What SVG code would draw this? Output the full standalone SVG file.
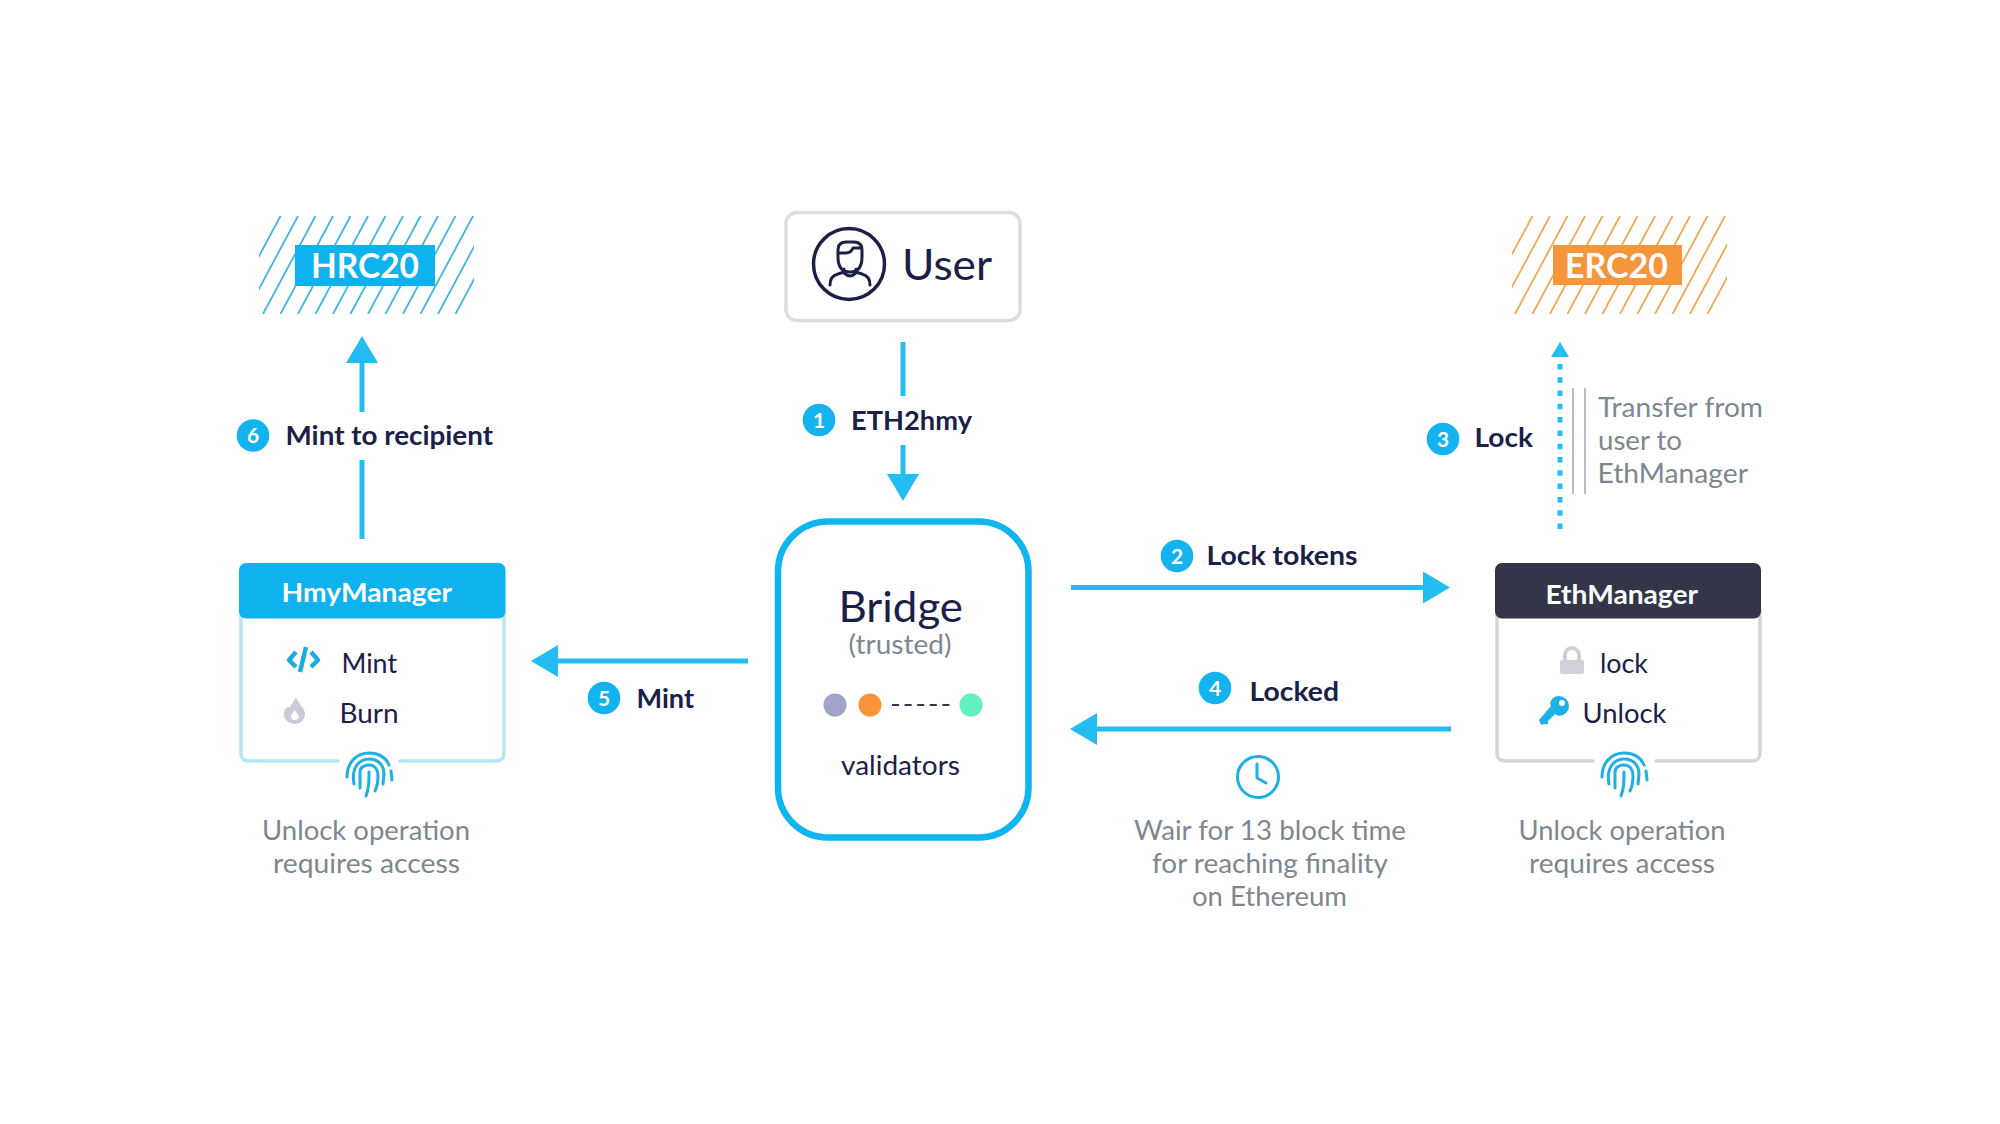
<svg xmlns="http://www.w3.org/2000/svg" width="2000" height="1124" viewBox="0 0 2000 1124">
<style>
text{font-family:"Lato","Noto Sans",sans-serif;fill:#1b2047}
.b{font-weight:700}
.g{fill:#7e8790;font-size:27px}
.r{font-size:27px}
.w{fill:#fff;font-weight:700}
.n{fill:#fff;font-size:21px;font-weight:700;text-anchor:middle}
.bd{fill:#12b3ee}
.c{stroke:#23bdf3;stroke-width:5;fill:none}
.fp path{fill:none;stroke:#1cb0e4;stroke-width:3;stroke-linecap:round}
</style>
<defs>
<marker id="big" markerUnits="userSpaceOnUse" markerWidth="27" markerHeight="32" refX="0" refY="16" orient="auto" viewBox="0 0 27 32"><path d="M0,0L27,16L0,32Z" fill="#23bdf3"/></marker>
<marker id="small" markerUnits="userSpaceOnUse" markerWidth="15" markerHeight="18" refX="0" refY="9" orient="auto" viewBox="0 0 15 18"><path d="M0,0L15,9L0,18Z" fill="#23bdf3"/></marker>
<clipPath id="hc"><rect x="259" y="216" width="215" height="98"/></clipPath>
<clipPath id="ec"><rect x="1512" y="216" width="215" height="98"/></clipPath>
<g id="fingerprint" class="fp">
<path d="M-22,3C-22,-12 -12,-21 0,-21C10,-21 17,-16 20,-9"/>
<path d="M22,-3L23,6"/>
<path d="M-15,10C-18,-6 -10,-15 0,-15C10,-15 15,-8 15,0L14,10"/>
<path d="M-9,14L-9,-2C-9,-7 -4,-9 0,-9C6,-9 9,-4 9,2C9,8 8,13 6,17"/>
<path d="M-3,22C0,14 0,8 0,-2"/>
</g>
</defs>
<rect width="2000" height="1124" fill="#fff"/>

<g id="connectors">
<line class="c" x1="903" y1="342" x2="903" y2="396"/>
<line class="c" x1="903" y1="445" x2="903" y2="474" marker-end="url(#big)"/>
<line class="c" x1="1071" y1="587.500" x2="1423" y2="587.500" marker-end="url(#big)"/>
<line class="c" x1="1451" y1="729" x2="1097" y2="729" marker-end="url(#big)"/>
<line class="c" x1="748" y1="661" x2="558" y2="661" marker-end="url(#big)"/>
<line class="c" x1="362" y1="539" x2="362" y2="460"/>
<line class="c" x1="362" y1="412" x2="362" y2="363" marker-end="url(#big)"/>
<line class="c" x1="1560" y1="529" x2="1560" y2="357" stroke-dasharray="5.5 7.8" marker-end="url(#small)"/>
</g>

<g id="hrc20">
<path clip-path="url(#hc)" fill="none" stroke="#3fb8dd" stroke-width="1.800" d="M228,314l52.500,-98M245.500,314l52.500,-98M263,314l52.500,-98M280.500,314l52.500,-98M298,314l52.500,-98M315.500,314l52.500,-98M333,314l52.500,-98M350.500,314l52.500,-98M368,314l52.500,-98M385.500,314l52.500,-98M403,314l52.500,-98M420.500,314l52.500,-98M438,314l52.500,-98M455.500,314l52.500,-98"/>
<rect x="295" y="245" width="140" height="41" fill="#0eb2ee"/>
<text class="w" x="311" y="277.500" font-size="34" textLength="108" lengthAdjust="spacingAndGlyphs">HRC20</text>
</g>

<g id="erc20">
<path clip-path="url(#ec)" fill="none" stroke="#f0a950" stroke-width="1.800" d="M1480,314l52.500,-98M1497.500,314l52.500,-98M1515,314l52.500,-98M1532.500,314l52.500,-98M1550,314l52.500,-98M1567.500,314l52.500,-98M1585,314l52.500,-98M1602.500,314l52.500,-98M1620,314l52.500,-98M1637.500,314l52.500,-98M1655,314l52.500,-98M1672.500,314l52.500,-98M1690,314l52.500,-98M1707.500,314l52.500,-98"/>
<rect x="1553" y="245" width="129" height="40" fill="#f6953a"/>
<text class="w" x="1565" y="277.500" font-size="34" textLength="103" lengthAdjust="spacingAndGlyphs">ERC20</text>
</g>

<g id="user">
<rect x="786" y="212.500" width="234" height="108" rx="11" fill="#fff" stroke="#dcdde0" stroke-width="3.500"/>
<circle cx="849" cy="264" r="35.500" fill="#fff" stroke="#1b2047" stroke-width="3.500"/>
<path fill="none" stroke="#1b2047" stroke-width="3" stroke-linecap="round" stroke-linejoin="round" d="M838,257V250Q838,242 846,242H854Q862,242 862,250V257Q862,272 850,272Q838,272 838,257ZM838,253H846Q851,253 853,248L862,248M830,285Q830,276 838,274L844,272V269M870,285Q870,276 862,274L856,272V269M844,273Q850,279 856,273"/>
<text x="902" y="280" font-size="43" textLength="90" lengthAdjust="spacingAndGlyphs">User</text>
</g>

<g id="step1">
<circle class="bd" cx="819" cy="420" r="16.300"/><text class="n" x="819" y="427.500">1</text>
<text class="b" x="851" y="429.500" font-size="26" textLength="121" lengthAdjust="spacingAndGlyphs">ETH2hmy</text>
</g>

<g id="bridge">
<rect x="778" y="521.500" width="250.500" height="316" rx="50" fill="#fff" stroke="#0eb5f0" stroke-width="6.500"/>
<text x="838.500" y="621.500" font-size="43" textLength="124.500" lengthAdjust="spacingAndGlyphs">Bridge</text>
<text class="g" x="848.500" y="653.500" textLength="103" lengthAdjust="spacingAndGlyphs">(trusted)</text>
<circle cx="835" cy="705" r="11.500" fill="#a0a4c8"/>
<circle cx="870" cy="705" r="11.500" fill="#f9943b"/>
<circle cx="971" cy="705" r="11.500" fill="#64f0bc"/>
<line x1="892" y1="705" x2="950" y2="705" stroke="#333548" stroke-width="2" stroke-dasharray="7 5.600"/>
<text class="r" x="841" y="774.500" textLength="119" lengthAdjust="spacingAndGlyphs">validators</text>
</g>

<g id="hmymanager">
<path fill="none" stroke="#b5e6f5" stroke-width="3.500" stroke-linecap="round" d="M241,610V753Q241,761 249,761H338M400,761H496Q504,761 504,753V610"/>
<rect x="239" y="563" width="266.500" height="55.500" rx="7" fill="#0eb2ee"/>
<text class="w" x="281.500" y="601.500" font-size="27" textLength="170.500" lengthAdjust="spacingAndGlyphs">HmyManager</text>
<path fill="none" stroke="#1bace0" stroke-width="4.500" stroke-linejoin="round" d="M296,652L289,660L296,667M311,652L318,660L311,667M306,647L300,672"/>
<text class="r" x="341.500" y="672.500" textLength="55.500" lengthAdjust="spacingAndGlyphs">Mint</text>
<path fill="#c9cbd6" fill-rule="evenodd" d="M296,697C298,704 305,708 305,714C305,720 300,724 295,724C289,724 284,720 284,714C284,709 287,706 290,708C291,704 294,702 296,697ZM295,710C293,713 291,714 291,717C291,719 293,720 295,720C297,720 299,719 299,717C299,714 296,713 295,710Z"/>
<text class="r" x="339.500" y="722.500" textLength="59" lengthAdjust="spacingAndGlyphs">Burn</text>
<use href="#fingerprint" x="369" y="774"/>
<text class="g" x="262" y="839.500" textLength="208" lengthAdjust="spacingAndGlyphs">Unlock operation</text>
<text class="g" x="273" y="873" textLength="187" lengthAdjust="spacingAndGlyphs">requires access</text>
</g>

<g id="ethmanager">
<path fill="none" stroke="#d4d6db" stroke-width="3.500" stroke-linecap="round" d="M1497,610V753Q1497,761 1505,761H1593M1656,761H1752Q1760,761 1760,753V610"/>
<rect x="1495" y="563" width="266" height="55.500" rx="7" fill="#333548"/>
<text class="w" x="1545.500" y="603.500" font-size="27" textLength="152.500" lengthAdjust="spacingAndGlyphs">EthManager</text>
<rect x="1560" y="660" width="24" height="14" rx="2" fill="#cfd0da"/>
<path fill="none" stroke="#cfd0da" stroke-width="4" d="M1565,661V655A7,7 0 0 1 1579,655V661"/>
<text class="r" x="1600" y="672.500" textLength="48" lengthAdjust="spacingAndGlyphs">lock</text>
<path fill="#1eb1e8" fill-rule="evenodd" d="M1559,696A10,10 0 1 1 1559,716L1555,714L1548,721V724H1544L1541,725L1539,720L1551,706L1550,703A10,10 0 0 1 1559,696ZM1562,700A3,3 0 1 0 1562,706A3,3 0 1 0 1562,700Z"/>
<text class="r" x="1582.500" y="722.500" textLength="84" lengthAdjust="spacingAndGlyphs">Unlock</text>
<use href="#fingerprint" x="1624" y="774"/>
<text class="g" x="1518.500" y="839.500" textLength="207" lengthAdjust="spacingAndGlyphs">Unlock operation</text>
<text class="g" x="1529" y="873" textLength="186" lengthAdjust="spacingAndGlyphs">requires access</text>
</g>

<g id="step2">
<circle class="bd" cx="1177" cy="556" r="16.300"/><text class="n" x="1177" y="563.500">2</text>
<text class="b" x="1206.500" y="564.500" font-size="26" textLength="151" lengthAdjust="spacingAndGlyphs">Lock tokens</text>
</g>

<g id="step3">
<circle class="bd" cx="1443" cy="439" r="16.300"/><text class="n" x="1443" y="446.500">3</text>
<text class="b" x="1474.500" y="446.500" font-size="26" textLength="58.500" lengthAdjust="spacingAndGlyphs">Lock</text>
<line x1="1573" y1="388" x2="1573" y2="494" stroke="#a8adb2" stroke-width="1.600"/>
<line x1="1585" y1="388" x2="1585" y2="494" stroke="#a8adb2" stroke-width="1.600"/>
<text class="g" x="1598" y="417" textLength="165" lengthAdjust="spacingAndGlyphs">Transfer from</text>
<text class="g" x="1598" y="450" textLength="84" lengthAdjust="spacingAndGlyphs">user to</text>
<text class="g" x="1597.500" y="482.500" textLength="150.500" lengthAdjust="spacingAndGlyphs">EthManager</text>
</g>

<g id="step4">
<circle class="bd" cx="1215" cy="688" r="16.300"/><text class="n" x="1215" y="695.500">4</text>
<text class="b" x="1249.500" y="700.500" font-size="26" textLength="89.500" lengthAdjust="spacingAndGlyphs">Locked</text>
<circle cx="1258" cy="777" r="20.500" fill="none" stroke="#1cb0e4" stroke-width="3"/>
<path fill="none" stroke="#1cb0e4" stroke-width="3" stroke-linecap="round" stroke-linejoin="round" d="M1257,764V778L1266,783"/>
<text class="g" x="1134" y="839.500" textLength="272" lengthAdjust="spacingAndGlyphs">Wair for 13 block time</text>
<text class="g" x="1152" y="873" textLength="236" lengthAdjust="spacingAndGlyphs">for reaching finality</text>
<text class="g" x="1192" y="906" textLength="155" lengthAdjust="spacingAndGlyphs">on Ethereum</text>
</g>

<g id="step5">
<circle class="bd" cx="604" cy="698" r="16.300"/><text class="n" x="604" y="705.500">5</text>
<text class="b" x="636.500" y="707.500" font-size="26" textLength="57.500" lengthAdjust="spacingAndGlyphs">Mint</text>
</g>

<g id="step6">
<circle class="bd" cx="253" cy="435.500" r="16.300"/><text class="n" x="253" y="443">6</text>
<text class="b" x="285.500" y="444.500" font-size="26" textLength="207.500" lengthAdjust="spacingAndGlyphs">Mint to recipient</text>
</g>
</svg>
